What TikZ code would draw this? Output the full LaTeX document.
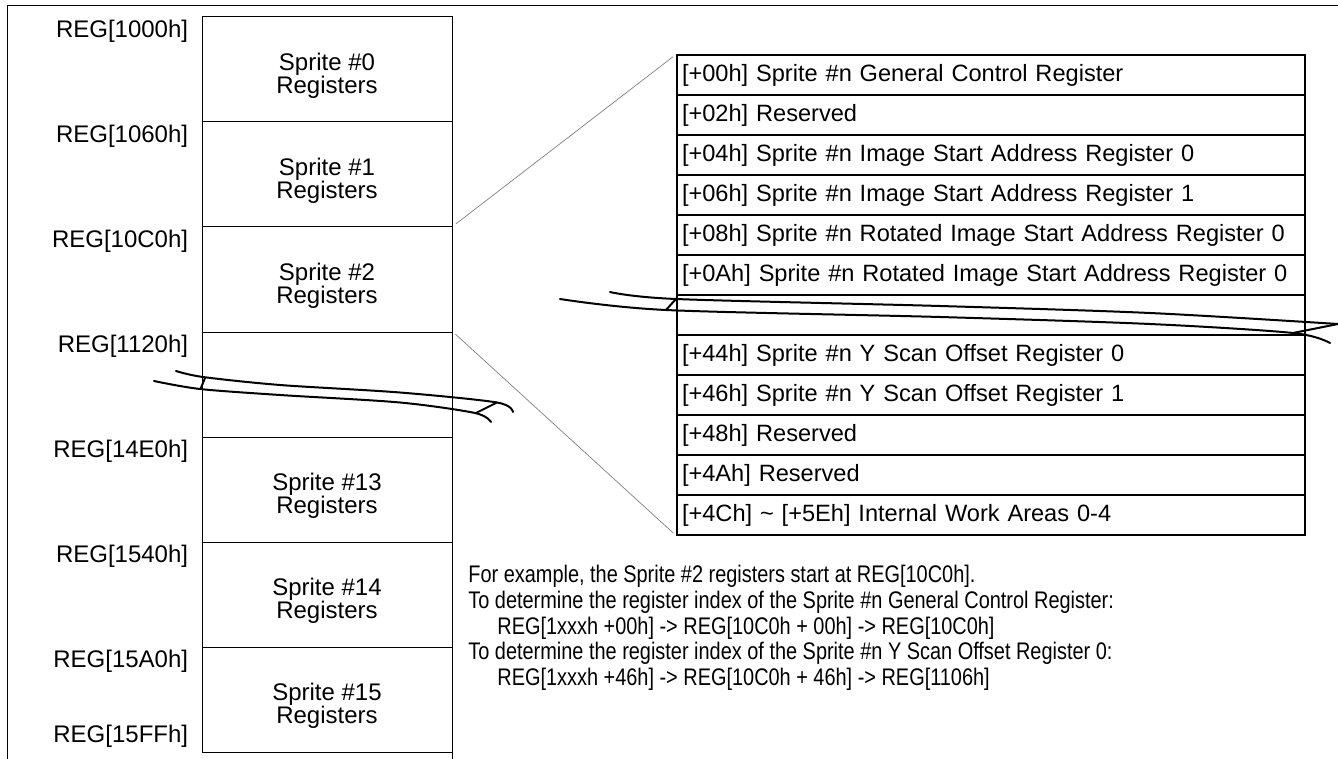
\documentclass[tikz,border=0pt]{standalone}
\usepackage{fontspec}
\setmainfont{Liberation Sans}
\newfontfamily\notefont[FakeStretch=0.83]{Liberation Sans}
\usetikzlibrary{positioning}
\newcommand{\spritetext}[1]{\rule{0pt}{15pt}Sprite \##1\\Registers}

\begin{document}
\begin{tikzpicture}[x=0.5pt, y=-0.5pt, node distance=52.5pt, font=\fontsize{12}{11.5}\selectfont,
  spritebox/.style={draw, line width=0.5pt, minimum width=125pt, minimum height=52.5pt, inner sep=0pt, align=center},
  reglabel/.style={inner sep=0pt},
  regrow/.style={draw, line width=0.75pt, minimum height=20pt, text width=309pt, inner xsep=2.5pt, inner ysep=0pt, align=left, font=\fontsize{11.8}{13}\selectfont},
  leader/.style={draw=gray, line width=0.35pt, shorten <=2pt, shorten >=2pt},
  breakline/.style={line width=1pt, line cap=round},
  notetext/.style={inner sep=0pt, align=left, font=\notefont\fontsize{12}{12.85}\selectfont}]
\useasboundingbox (0,0) rectangle (1338,759);
\draw[line width=0.5pt] (7,759) -- (7,6) -- (1338,6);

\node[spritebox] (s0) at (327,69.5) {\spritetext{0}};
\node[spritebox] (s1) [below of=s0] {\spritetext{1}};
\node[spritebox] (s2) [below of=s1] {\spritetext{2}};
\node[spritebox] (s3) [below of=s2] {};
\node[spritebox] (s13) [below of=s3] {\spritetext{13}};
\node[spritebox] (s14) [below of=s13] {\spritetext{14}};
\node[spritebox] (s15) [below of=s14] {\spritetext{15}};
\draw[line width=0.5pt] (s15.south east) -- ++(0,7);

\node[reglabel, below left=1.5pt and 6.5pt of s0.north west] (a0) {REG[1000h]};
\node[reglabel, below left=1.5pt and 6.5pt of s1.north west] (a1) {REG[1060h]};
\node[reglabel, below left=1.5pt and 6.5pt of s2.north west] (a2) {REG[10C0h]};
\node[reglabel, below left=1.5pt and 6.5pt of s3.north west] (a3) {REG[1120h]};
\node[reglabel, below left=1.5pt and 6.5pt of s13.north west] (a13) {REG[14E0h]};
\node[reglabel, below left=1.5pt and 6.5pt of s14.north west] (a14) {REG[1540h]};
\node[reglabel, below left=1.5pt and 6.5pt of s15.north west] (a15) {REG[15A0h]};
\node[reglabel, above left=2.5pt and 6.5pt of s15.south west] (aend) {REG[15FFh]};

\begin{scope}[node distance=20pt]
\node[regrow] (r0) at (991,75) {[+00h] Sprite \#n General Control Register};
\node[regrow] (r1) [below of=r0] {[+02h] Reserved};
\node[regrow] (r2) [below of=r1] {[+04h] Sprite \#n Image Start Address Register 0};
\node[regrow] (r3) [below of=r2] {[+06h] Sprite \#n Image Start Address Register 1};
\node[regrow] (r4) [below of=r3] {[+08h] Sprite \#n Rotated Image Start Address Register 0};
\node[regrow] (r5) [below of=r4] {[+0Ah] Sprite \#n Rotated Image Start Address Register 0};
\node[regrow] (r6) [below of=r5] {};
\node[regrow] (r7) [below of=r6] {[+44h] Sprite \#n Y Scan Offset Register 0};
\node[regrow] (r8) [below of=r7] {[+46h] Sprite \#n Y Scan Offset Register 1};
\node[regrow] (r9) [below of=r8] {[+48h] Reserved};
\node[regrow] (r10) [below of=r9] {[+4Ah] Reserved};
\node[regrow] (r11) [below of=r10] {[+4Ch] \textasciitilde{} [+5Eh] Internal Work Areas 0-4};
\end{scope}

\draw[leader] (s2.north east) -- (r0.north west);
\draw[leader] (s3.north east) -- (r11.south west);

\draw[breakline] plot[smooth] coordinates {(176,371) (203,377) (280,385) (400,392.5) (497,402.5) (513,412)};
\draw[breakline] plot[smooth] coordinates {(154,381) (200,389) (280,395) (400,402.5) (475,413) (491,422)};
\draw[breakline] (205,378) -- (200.5,389);
\draw[breakline] (497,402.5) -- (476,413);

\draw[breakline] plot[smooth] coordinates {(610,292) (676,299) (940,306) (1150,313) (1338,324)};
\draw[breakline] plot[smooth] coordinates {(560,299) (666,310) (940,317) (1150,324) (1293,333) (1330,343)};
\draw[breakline] (666,310) -- (676,299);
\draw[breakline] (1293,333) -- (1338,324);

\node[notetext, anchor=north west] (note) at (468,565) {For example, the Sprite \#2 registers start at REG[10C0h].\\
To determine the register index of the Sprite \#n General Control Register:\\
\hspace*{14.5pt}REG[1xxxh +00h] -> REG[10C0h + 00h] -> REG[10C0h]\\
To determine the register index of the Sprite \#n Y Scan Offset Register 0:\\
\hspace*{14.5pt}REG[1xxxh +46h] -> REG[10C0h + 46h] -> REG[1106h]};
\end{tikzpicture}
\end{document}
